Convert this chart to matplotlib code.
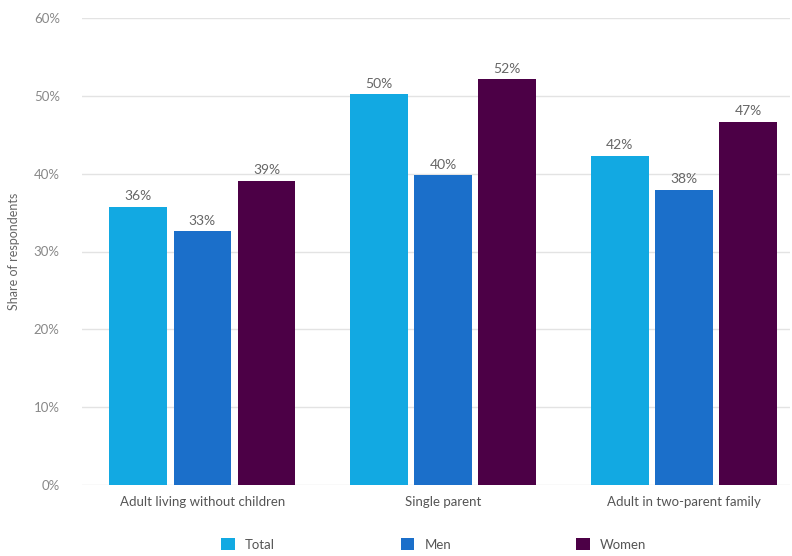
import matplotlib
matplotlib.use("Agg")
import matplotlib.pyplot as plt
import numpy as np

plt.rcParams['font.family'] = ['Lato', 'DejaVu Sans']

categories = ["Adult living without children", "Single parent", "Adult in two-parent family"]
series = ["Total", "Men", "Women"]
total = [35.7, 50.2, 42.3]
men = [32.6, 39.8, 37.9]
women = [39.1, 52.1, 46.7]
colors = ["#12a9e2", "#1b6fca", "#4c0046"]

fig = plt.figure(figsize=(7.92, 5.56), dpi=100)
ax = fig.add_axes([82 / 792, 1 - 485 / 556, 708 / 792, 467 / 556])

x = np.arange(len(categories))
width = 0.24
step = 0.266
for i, (name, vals, col) in enumerate(zip(series, [total, men, women], colors)):
    pos = x + (i - 1) * step
    bars = ax.bar(pos, vals, width, color=col, label=name, zorder=3)
    for b, v in zip(bars, vals):
        ax.text(b.get_x() + b.get_width() / 2, v + 0.6, f"{round(v)}%",
                ha="center", va="bottom", fontsize=10, color="#666666", zorder=4)

ax.set_xlim(-0.5, 2.44)
ax.set_ylim(0, 60)
ax.set_yticks(np.arange(0, 61, 10))
ax.set_yticklabels([f"{t}%" for t in range(0, 61, 10)])
ax.set_xticks(x)
ax.set_xticklabels(categories)
ax.yaxis.grid(True, color="#e3e3e3", linewidth=1, zorder=0)
for s in ax.spines.values():
    s.set_visible(False)
ax.tick_params(axis="both", length=0, colors="#555555", labelsize=9.5)
ax.tick_params(axis="y", pad=16, colors="#888888")
ax.tick_params(axis="x", pad=8)
ax.set_ylabel("Share of respondents", fontsize=9, color="#666666", labelpad=10)

fig.legend(loc="lower center", bbox_to_anchor=(0.548, -0.012), ncol=3, frameon=False,
           fontsize=9.5, handlelength=1.0, handleheight=1.0, columnspacing=9.5,
           labelcolor="#555555")

fig.savefig("out.png", dpi=100, facecolor="white")
